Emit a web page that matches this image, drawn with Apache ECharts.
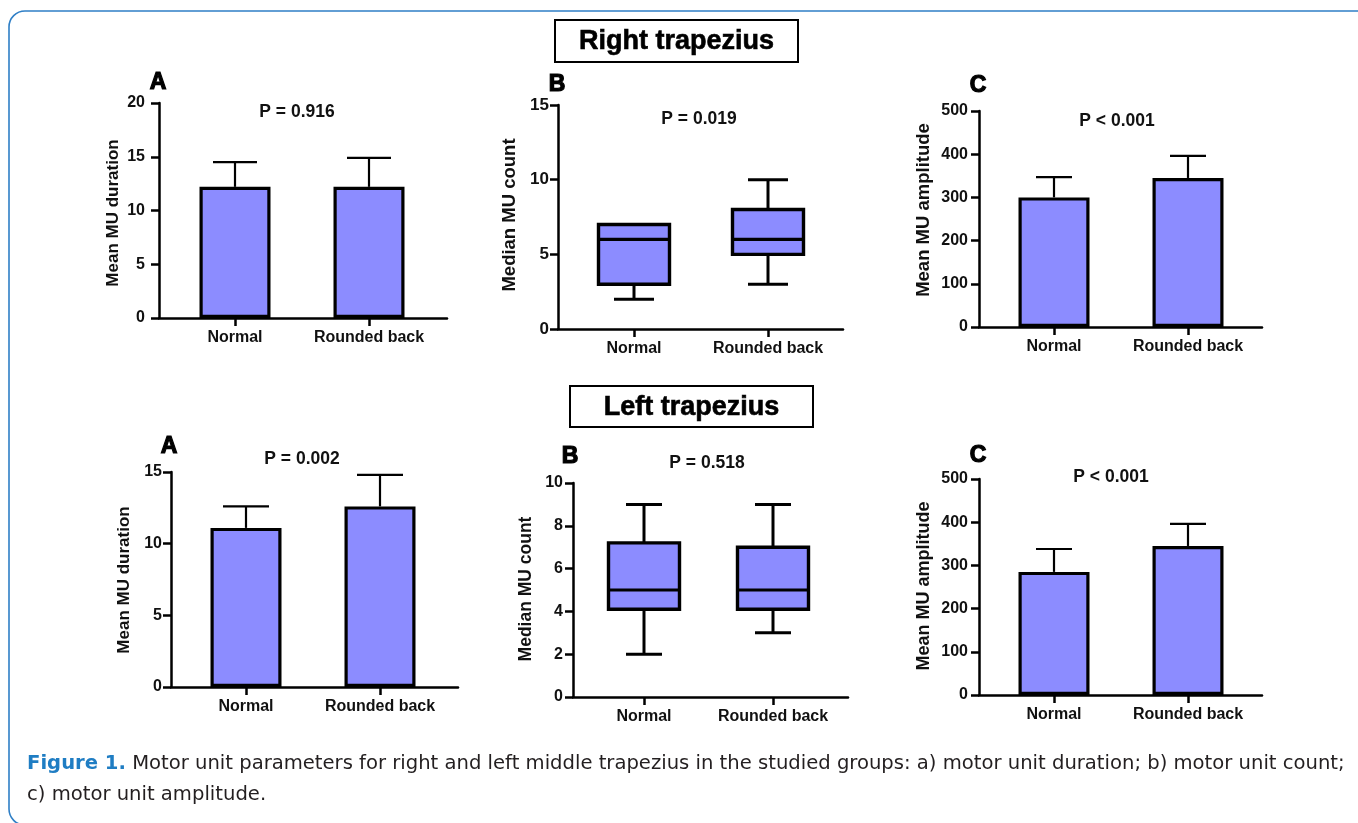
<!DOCTYPE html>
<html>
<head>
<meta charset="utf-8">
<script src="https://cdn.jsdelivr.net/npm/echarts@6.0.0/dist/echarts.min.js"></script>
<style>
html,body{margin:0;padding:0;background:#fff;}
#chart{width:1358px;height:823px;}
</style>
</head>
<body>
<div id="chart"></div>
<script>
// ---------------- DATA ----------------
const categories = ['Normal', 'Rounded back'];

// Right trapezius
const rightDurationMean = [12.2, 12.2];
const rightDurationSD = [2.3, 2.7];
const rightCountBox = [ // [min, Q1, median, Q3, max]
  [2, 3, 6, 7, 7],
  [3, 5, 6, 8, 10]
];
const rightAmplitudeMean = [300, 345];
const rightAmplitudeSD = [47, 51];

// Left trapezius
const leftDurationMean = [11.1, 12.6];
const leftDurationSD = [1.5, 2.2];
const leftCountBox = [
  [2, 4.1, 5, 7.2, 9],
  [3, 4.1, 5, 7, 9]
];
const leftAmplitudeMean = [285, 345];
const leftAmplitudeSD = [53, 51];

// axis tick settings
const yMaxes = [20, 15, 500, 15, 10, 500];
const yIntervals = [5, 5, 100, 5, 2, 100];

// texts
const pLabels = ['P = 0.916', 'P = 0.019', 'P < 0.001', 'P = 0.002', 'P = 0.518', 'P < 0.001'];
const panelLetters = ['A', 'B', 'C', 'A', 'B', 'C'];
const yTitles = ['Mean MU duration', 'Median MU count', 'Mean MU amplitude',
                 'Mean MU duration', 'Median MU count', 'Mean MU amplitude'];
const sectionTitles = ['Right trapezius', 'Left trapezius'];
const captionLead = 'Figure 1.';
const captionLine1 = ' Motor unit parameters for right and left middle trapezius in the studied groups: a) motor unit duration; b) motor unit count;';
const captionLine2 = 'c) motor unit amplitude.';

// ---------------- LAYOUT / STYLE ----------------
const FONT = '"Liberation Sans", Arial, sans-serif';
const CAP_FONT = '"DejaVu Sans", sans-serif';
const BAR_COLOR = '#8C8CFF';
// left, top, bottom, right, first category centre, category spacing
const layout = [
  {L:159, T:103, B:318, R:447, c0:235, sp:134, tick:16, lm:14, title:[113,213,17], p:[297,112], letter:[158,83], cap:44},
  {L:558, T:105, B:329, R:843, c0:634, sp:134, tick:17, lm:9, title:[510,215,18.5], p:[699,119], letter:[557,85], cap:40},
  {L:979, T:111, B:327, R:1262, c0:1054, sp:134, tick:16, lm:11, title:[924,210,18.5], p:[1117,121], letter:[978,86], cap:36},
  {L:171, T:472, B:687, R:458, c0:246, sp:134, tick:16, lm:9, title:[124,580,17], p:[302,459], letter:[169,447], cap:46},
  {L:573, T:483, B:697, R:848, c0:644, sp:129, tick:16, lm:10, title:[526,589,17.5], p:[707,463], letter:[570,457], cap:36},
  {L:979, T:479, B:695, R:1262, c0:1054, sp:134, tick:16, lm:11, title:[924,586,18], p:[1111,477], letter:[978,456], cap:36}
];

const grids = [], xAxes = [], yAxes = [], series = [];

layout.forEach((g, i) => {
  grids.push({left: g.L, top: g.T, width: g.R - g.L, height: g.B - g.T, containLabel: false});
  xAxes.push({
    gridIndex: i, type: 'value',
    min: (g.L - g.c0) / g.sp, max: (g.R - g.c0) / g.sp,
    splitLine: {show: false},
    axisLine: {show: true, onZero: false, lineStyle: {color: '#000', width: 2.5}},
    axisTick: {show: true, customValues: [0, 1], length: 8, lineStyle: {color: '#000', width: 2.5}},
    axisLabel: {show: true, customValues: [0, 1], margin: 12, color: '#111',
      fontFamily: FONT, fontWeight: 'bold', fontSize: 16,
      formatter: v => categories[Math.round(v)]}
  });
  yAxes.push({
    gridIndex: i, type: 'value', min: 0, max: yMaxes[i], interval: yIntervals[i],
    splitLine: {show: false},
    axisLine: {show: true, onZero: false, lineStyle: {color: '#000', width: 2.5}},
    axisTick: {show: true, length: 8, lineStyle: {color: '#000', width: 2.5}},
    axisLabel: {margin: g.lm, color: '#111', fontFamily: FONT, fontWeight: 'bold', fontSize: g.tick}
  });
});

function barPanel(idx, means, sds) {
  series.push({
    type: 'bar', xAxisIndex: idx, yAxisIndex: idx, barWidth: 71, z: 3,
    data: means.map((m, k) => [k, m]),
    itemStyle: {color: BAR_COLOR, borderColor: '#000', borderWidth: 3.2},
    emphasis: {disabled: true}, silent: true
  });
  const capW = layout[idx].cap;
  series.push({
    type: 'custom', xAxisIndex: idx, yAxisIndex: idx, z: 2, silent: true,
    data: means.map((m, k) => [k, m, m + sds[k]]),
    renderItem: (params, api) => {
      const base = api.coord([api.value(0), api.value(1)]);
      const top = api.coord([api.value(0), api.value(2)]);
      const st = {stroke: '#000', lineWidth: 2.2, fill: null};
      return {type: 'group', children: [
        {type: 'line', shape: {x1: base[0], y1: base[1], x2: top[0], y2: top[1]}, style: st},
        {type: 'line', shape: {x1: top[0] - capW / 2, y1: top[1], x2: top[0] + capW / 2, y2: top[1]}, style: st}
      ]};
    }
  });
}

function boxPanel(idx, boxes) {
  const capW = layout[idx].cap;
  const boxW = 71;
  series.push({
    type: 'custom', xAxisIndex: idx, yAxisIndex: idx, z: 3, silent: true,
    data: boxes.map((b, k) => [k].concat(b)),
    renderItem: (params, api) => {
      const x = api.value(0);
      const pMin = api.coord([x, api.value(1)]);
      const pQ1 = api.coord([x, api.value(2)]);
      const pMed = api.coord([x, api.value(3)]);
      const pQ3 = api.coord([x, api.value(4)]);
      const pMax = api.coord([x, api.value(5)]);
      const cx = pMin[0];
      const wst = {stroke: '#000', lineWidth: 3, fill: null};
      const kids = [];
      if (pMin[1] - pQ1[1] > 0.5) {
        kids.push({type: 'line', shape: {x1: cx, y1: pQ1[1], x2: cx, y2: pMin[1]}, style: wst});
        kids.push({type: 'line', shape: {x1: cx - capW / 2, y1: pMin[1], x2: cx + capW / 2, y2: pMin[1]}, style: wst});
      }
      if (pQ3[1] - pMax[1] > 0.5) {
        kids.push({type: 'line', shape: {x1: cx, y1: pQ3[1], x2: cx, y2: pMax[1]}, style: wst});
        kids.push({type: 'line', shape: {x1: cx - capW / 2, y1: pMax[1], x2: cx + capW / 2, y2: pMax[1]}, style: wst});
      }
      kids.push({type: 'rect', shape: {x: cx - boxW / 2, y: pQ3[1], width: boxW, height: pQ1[1] - pQ3[1]},
        style: {fill: BAR_COLOR, stroke: '#000', lineWidth: 3.4}});
      kids.push({type: 'line', shape: {x1: cx - boxW / 2, y1: pMed[1], x2: cx + boxW / 2, y2: pMed[1]},
        style: {stroke: '#000', lineWidth: 3.2}});
      return {type: 'group', children: kids};
    }
  });
}

barPanel(0, rightDurationMean, rightDurationSD);
boxPanel(1, rightCountBox);
barPanel(2, rightAmplitudeMean, rightAmplitudeSD);
barPanel(3, leftDurationMean, leftDurationSD);
boxPanel(4, leftCountBox);
barPanel(5, leftAmplitudeMean, leftAmplitudeSD);

// ---------------- GRAPHIC TEXT ----------------
const graphics = [];
// outer frame
graphics.push({type: 'rect', silent: true, z: 100,
  shape: {x: 9, y: 11, width: 1370, height: 814, r: 16},
  style: {fill: null, stroke: '#2f7fc6', lineWidth: 1.6}});

layout.forEach((g, i) => {
  graphics.push({type: 'text', x: g.p[0], y: g.p[1], z: 100, silent: true,
    style: {text: pLabels[i], fill: '#111', font: 'bold 17.5px ' + FONT, textAlign: 'center', textVerticalAlign: 'middle'}});
  graphics.push({type: 'text', x: g.letter[0], y: g.letter[1], z: 100, silent: true,
    style: {text: panelLetters[i], fill: '#000', font: 'bold 23px ' + FONT, textAlign: 'center', textVerticalAlign: 'middle',
      stroke: '#000', lineWidth: 1.2}});
  graphics.push({type: 'text', x: g.title[0], y: g.title[1], rotation: Math.PI / 2, z: 100, silent: true,
    style: {text: yTitles[i], fill: '#111', font: 'bold ' + g.title[2] + 'px ' + FONT, textAlign: 'center', textVerticalAlign: 'middle'}});
});

// section titles with boxes
const titleBoxes = [[555, 20, 243, 42], [570, 386, 243, 41]];
titleBoxes.forEach((b, i) => {
  graphics.push({type: 'rect', z: 100, silent: true, shape: {x: b[0], y: b[1], width: b[2], height: b[3]},
    style: {fill: '#fff', stroke: '#000', lineWidth: 2}});
  graphics.push({type: 'text', z: 101, silent: true, x: b[0] + b[2] / 2, y: b[1] + b[3] / 2 + 1,
    style: {text: sectionTitles[i], fill: '#000', font: 'bold 27px ' + FONT, textAlign: 'center', textVerticalAlign: 'middle',
      stroke: '#000', lineWidth: 0.6}});
});

// caption
graphics.push({type: 'text', z: 100, silent: true, x: 27, y: 764,
  style: {
    text: '{a|' + captionLead + '}{b|' + captionLine1 + '}',
    textVerticalAlign: 'middle',
    rich: {
      a: {fill: '#1f7dc3', font: 'bold 19.6px ' + CAP_FONT},
      b: {fill: '#231f20', font: '19.6px ' + CAP_FONT}
    }
  }});
graphics.push({type: 'text', z: 100, silent: true, x: 27, y: 795,
  style: {text: captionLine2, fill: '#231f20', font: '19.6px ' + CAP_FONT, textVerticalAlign: 'middle'}});

const chart = echarts.init(document.getElementById('chart'), null, {renderer: 'canvas'});
chart.setOption({
  animation: false,
  backgroundColor: '#fff',
  grid: grids, xAxis: xAxes, yAxis: yAxes, series: series,
  graphic: {elements: graphics}
});
</script>
</body>
</html>
